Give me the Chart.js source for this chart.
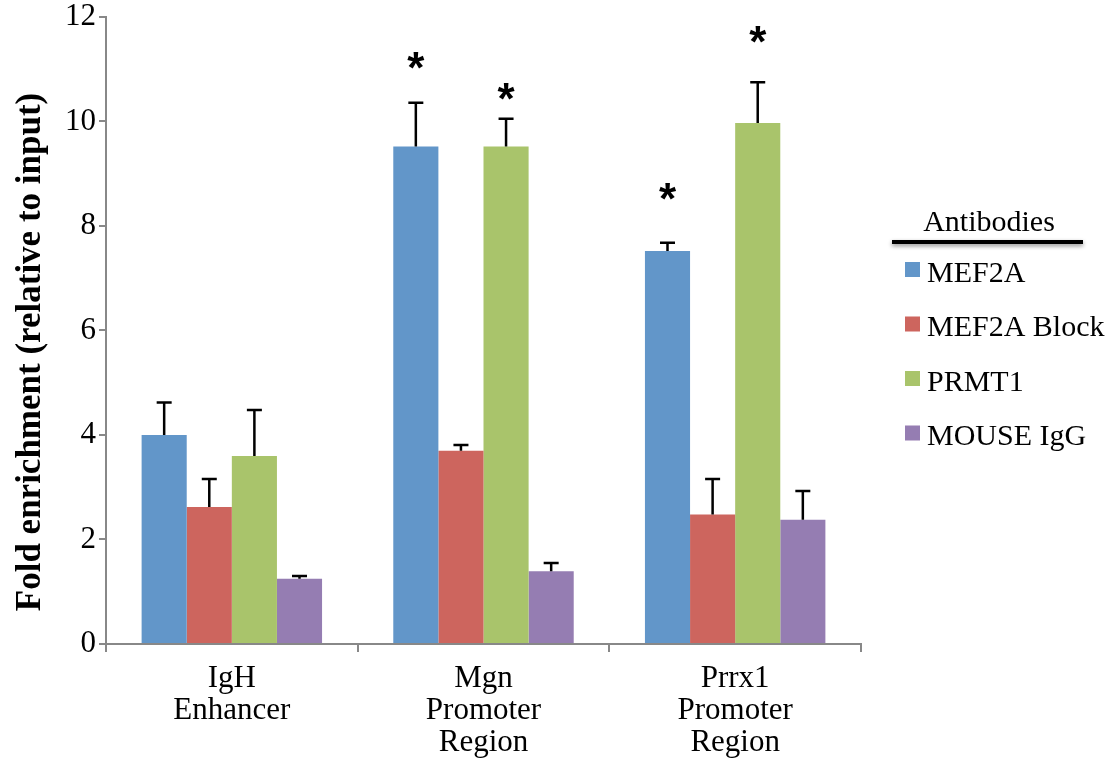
<!DOCTYPE html>
<html>
<head>
<meta charset="utf-8">
<script src="https://cdn.jsdelivr.net/npm/chart.js@4.4.1/dist/chart.umd.min.js"></script>
<style>
  body { margin: 0; background: #fff; }
  canvas { display: block; }
</style>
</head>
<body>
<canvas id="chart" width="1118" height="759"></canvas>
<script>
// categories (multi-line labels)
const categories = [["IgH", "Enhancer"], ["Mgn", "Promoter", "Region"], ["Prrx1", "Promoter", "Region"]];
const seriesNames = ["MEF2A", "MEF2A Block", "PRMT1", "MOUSE IgG"];
const seriesColors = ["#6296C9", "#CD655E", "#A9C46B", "#957DB2"];
const yTitle = "Fold enrichment (relative to input)";

// bar values
const mef2a = [4.0, 9.52, 7.52];
const mef2aBlock = [2.62, 3.70, 2.48];
const prmt1 = [3.60, 9.52, 9.97];
const mouseIgg = [1.25, 1.39, 2.38];

// upper error (SD) per bar
const mef2aErr = [0.62, 0.84, 0.16];
const mef2aBlockErr = [0.54, 0.11, 0.68];
const prmt1Err = [0.88, 0.53, 0.78];
const mouseIggErr = [0.05, 0.16, 0.55];

// asterisk heights (in axis units), null = no mark
const mef2aStar = [null, 11.16, 8.66];
const prmt1Star = [null, 10.57, 11.66];

// y ticks
const yMin = 0, yMax = 12, yStep = 2;

const values = [mef2a, mef2aBlock, prmt1, mouseIgg];
const errors = [mef2aErr, mef2aBlockErr, prmt1Err, mouseIggErr];
const stars = [mef2aStar, null, prmt1Star, null];

const serif = '"Liberation Serif", "Times New Roman", serif';

// draw error bars and asterisks
const errorBarPlugin = {
    id: "errorBars",
    afterDatasetsDraw(chart) {
        const ctx = chart.ctx;
        const yScale = chart.scales.y;
        ctx.save();
        ctx.strokeStyle = "#000";
        ctx.lineWidth = 2.5;
        chart.data.datasets.forEach((ds, i) => {
            const meta = chart.getDatasetMeta(i);
            meta.data.forEach((bar, j) => {
                const err = errors[i][j];
                const yTop = yScale.getPixelForValue(ds.data[j] + err);
                const yBase = yScale.getPixelForValue(ds.data[j]);
                ctx.beginPath();
                ctx.moveTo(bar.x, yBase);
                ctx.lineTo(bar.x, yTop);
                ctx.moveTo(bar.x - 7.5, yTop);
                ctx.lineTo(bar.x + 7.5, yTop);
                ctx.stroke();

                if (stars[i] && stars[i][j] != null) {
                    ctx.font = 'bold 44px "Liberation Sans", Arial, sans-serif';
                    ctx.fillStyle = "#000";
                    ctx.textAlign = "center";
                    ctx.textBaseline = "alphabetic";
                    const m = ctx.measureText("*");
                    const cy = yScale.getPixelForValue(stars[i][j]);
                    const off = (m.actualBoundingBoxAscent - m.actualBoundingBoxDescent) / 2;
                    ctx.fillText("*", bar.x, cy + off);
                }
            });
        });
        ctx.restore();
    }
};

// legend with underlined title, plus the y axis title
const legendPlugin = {
    id: "customLegend",
    afterDraw(chart) {
        const ctx = chart.ctx;
        ctx.save();
        ctx.fillStyle = "#000";

        // y axis title (sits a bit below the plot centre in the original)
        ctx.save();
        ctx.translate(31, 352);
        ctx.rotate(-Math.PI / 2);
        ctx.font = "bold 35px " + serif;
        ctx.textAlign = "center";
        ctx.textBaseline = "middle";
        ctx.fillText(yTitle, 0, 0);
        ctx.restore();

        ctx.font = "30px " + serif;
        ctx.textAlign = "center";
        ctx.textBaseline = "alphabetic";
        ctx.fillText("Antibodies", 989, 231);

        ctx.shadowColor = "rgba(0,0,0,0.45)";
        ctx.shadowBlur = 4;
        ctx.shadowOffsetY = 2;
        ctx.fillRect(892, 240, 191, 4);
        ctx.shadowColor = "transparent";

        ctx.textAlign = "left";
        ctx.textBaseline = "middle";
        chart.data.datasets.forEach((ds, i) => {
            const yc = 274 + i * 54.5;
            ctx.fillStyle = ds.backgroundColor;
            ctx.fillRect(905, yc - 12, 15, 15);
            ctx.fillStyle = "#000";
            ctx.fillText(ds.label, 927, yc);
        });
        ctx.restore();
    }
};

new Chart(document.getElementById("chart").getContext("2d"), {
    type: "bar",
    data: {
        labels: categories,
        datasets: seriesNames.map((name, i) => ({
            label: name,
            data: values[i],
            backgroundColor: seriesColors[i],
            borderWidth: 0,
            categoryPercentage: 0.717,
            barPercentage: 1.0
        }))
    },
    options: {
        responsive: false,
        animation: false,
        layout: { padding: { top: 0, right: 257, left: 0, bottom: 0 } },
        plugins: {
            legend: { display: false },
            tooltip: { enabled: false }
        },
        scales: {
            x: {
                afterFit: (scale) => { scale.height = 115; },
                grid: {
                    offset: true,
                    drawOnChartArea: false,
                    tickLength: 8,
                    color: "#888",
                    lineWidth: 2
                },
                border: { color: "#888", width: 2 },
                ticks: {
                    color: "#000",
                    font: { family: serif, size: 31, lineHeight: 1.03 },
                    padding: 11,
                    maxRotation: 0,
                    autoSkip: false
                }
            },
            y: {
                min: yMin,
                max: yMax,
                afterFit: (scale) => { scale.width = 106; },
                grid: {
                    drawOnChartArea: false,
                    tickLength: 7,
                    color: "#888",
                    lineWidth: 2
                },
                border: { color: "#888", width: 2 },
                ticks: {
                    stepSize: yStep,
                    color: "#000",
                    font: { family: serif, size: 31, lineHeight: 0.9 },
                    padding: 3
                },
                title: { display: false }
            }
        }
    },
    plugins: [errorBarPlugin, legendPlugin]
});
</script>
</body>
</html>
